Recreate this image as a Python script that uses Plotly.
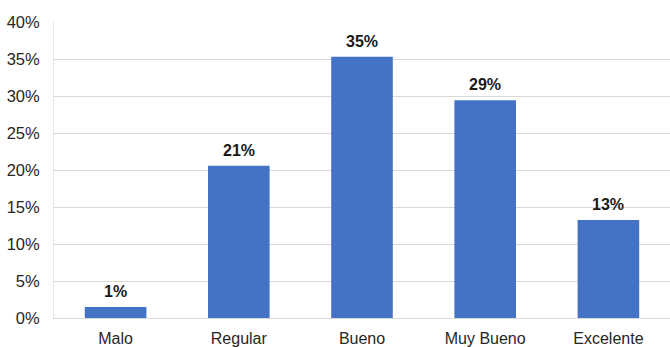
import plotly.graph_objects as go

# Responses per rating (n = 68), shown as share of total
categories = ["Malo", "Regular", "Bueno", "Muy Bueno", "Excelente"]
counts = [1, 14, 24, 20, 9]
total = sum(counts)
shares = [c / total for c in counts]

tick_vals = [0, 0.05, 0.10, 0.15, 0.20, 0.25, 0.30, 0.35, 0.40]
tick_text = ["0%", "5%", "10%", "15%", "20%", "25%", "30%", "35%", "40%"]

BAR_COLOR = "#4472C4"
FONT = "Liberation Sans, Arial, sans-serif"

fig = go.Figure(
    go.Bar(
        x=categories,
        y=shares,
        marker=dict(color=BAR_COLOR, line=dict(width=0)),
        hoverinfo="skip",
    )
)

# Percentage labels above each bar
for cat, v in zip(categories, shares):
    fig.add_annotation(
        x=cat, y=v, text=f"<b>{v:.0%}</b>", showarrow=False,
        yanchor="bottom", yshift=5,
        font=dict(family=FONT, size=16, color="#1a1a1a"),
    )

fig.update_layout(
    width=670, height=347,
    margin=dict(l=54, r=0, t=22, b=29, autoexpand=False),
    paper_bgcolor="white", plot_bgcolor="white",
    bargap=0.5,
    showlegend=False,
    font=dict(family=FONT, size=16, color="#262626"),
    xaxis=dict(
        showgrid=False, zeroline=False,
        showline=True, linecolor="#d9d9d9", linewidth=1,
        ticks="outside", ticklen=6, tickcolor="rgba(0,0,0,0)",
        tickfont=dict(family=FONT, size=16, color="#262626"),
        automargin=False,
    ),
    yaxis=dict(
        range=[0, 0.40],
        tickvals=tick_vals, ticktext=tick_text,
        showgrid=True, gridcolor="#d9d9d9", gridwidth=1,
        zeroline=False,
        showline=True, linecolor="#e6e6e6", linewidth=1,
        ticks="outside", ticklen=10, tickcolor="rgba(0,0,0,0)",
        tickfont=dict(family=FONT, size=16.5, color="#262626"),
        automargin=False,
    ),
)

fig.write_html("out.html")
